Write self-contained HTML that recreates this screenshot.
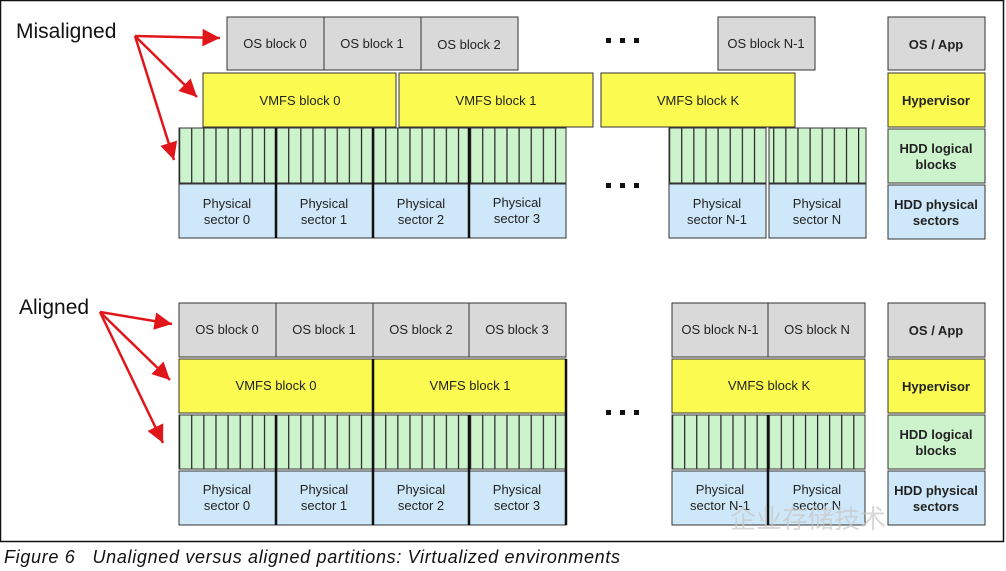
<!DOCTYPE html>
<html><head><meta charset="utf-8"><style>
html,body{margin:0;padding:0;background:#fff;}
svg{display:block;font-family:"Liberation Sans",sans-serif;}
</style></head><body>
<svg width="1006" height="571" viewBox="0 0 1006 571" xmlns="http://www.w3.org/2000/svg">
<defs>
<pattern id="pA" x="179" y="0" width="12.125" height="10" patternUnits="userSpaceOnUse"><rect width="12.125" height="10" fill="#cdf3cd"/><rect width="1.2" height="10" fill="#222"/></pattern>
<pattern id="pB" x="669" y="0" width="12.125" height="10" patternUnits="userSpaceOnUse"><rect width="12.125" height="10" fill="#cdf3cd"/><rect width="1.2" height="10" fill="#222"/></pattern>
<pattern id="pC" x="672" y="0" width="12.08" height="10" patternUnits="userSpaceOnUse"><rect width="12.08" height="10" fill="#cdf3cd"/><rect width="1.2" height="10" fill="#222"/></pattern>
<marker id="ar" viewBox="0 0 10 10" refX="10" refY="5" markerWidth="9" markerHeight="7" orient="auto" markerUnits="strokeWidth"><path d="M0,0 L10,5 L0,10 z" fill="#e0161a"/></marker>
</defs>
<rect x="0.5" y="0.5" width="1003" height="541" fill="#fff" stroke="#111" stroke-width="1.5"/>
<g stroke="#333" stroke-width="1">
<rect x="227" y="17" width="97" height="53" fill="#d9d9d9"/>
<rect x="324" y="17" width="97" height="53" fill="#d9d9d9"/>
<rect x="421" y="17" width="97" height="53" fill="#d9d9d9"/>
<rect x="718" y="17" width="97" height="53" fill="#d9d9d9"/>
<rect x="203" y="73" width="193" height="54" fill="#fafa50"/>
<rect x="399" y="73" width="194" height="54" fill="#fafa50"/>
<rect x="601" y="73" width="194" height="54" fill="#fafa50"/>
<rect x="179" y="128" width="387" height="55" fill="url(#pA)"/>
<rect x="669" y="128" width="97" height="55" fill="url(#pB)"/>
<rect x="769" y="128" width="97" height="55" fill="url(#pA)"/>
<rect x="179" y="184" width="97" height="54" fill="#cfe8f9"/>
<rect x="276" y="184" width="97" height="54" fill="#cfe8f9"/>
<rect x="373" y="184" width="96" height="54" fill="#cfe8f9"/>
<rect x="469" y="184" width="97" height="54" fill="#cfe8f9"/>
<rect x="669" y="184" width="97" height="54" fill="#cfe8f9"/>
<rect x="769" y="184" width="97" height="54" fill="#cfe8f9"/>
<rect x="888" y="17" width="97" height="53" fill="#d9d9d9"/>
<rect x="888" y="73" width="97" height="54" fill="#fafa50"/>
<rect x="888" y="129" width="97" height="54" fill="#cdf3cd"/>
<rect x="888" y="185" width="97" height="54" fill="#cfe8f9"/>
<rect x="179" y="303" width="97" height="54" fill="#d9d9d9"/>
<rect x="276" y="303" width="97" height="54" fill="#d9d9d9"/>
<rect x="373" y="303" width="96" height="54" fill="#d9d9d9"/>
<rect x="469" y="303" width="97" height="54" fill="#d9d9d9"/>
<rect x="672" y="303" width="96" height="54" fill="#d9d9d9"/>
<rect x="768" y="303" width="97" height="54" fill="#d9d9d9"/>
<rect x="179" y="359" width="194" height="54" fill="#fafa50"/>
<rect x="373" y="359" width="193" height="54" fill="#fafa50"/>
<rect x="672" y="359" width="193" height="54" fill="#fafa50"/>
<rect x="179" y="415" width="387" height="54" fill="url(#pA)"/>
<rect x="672" y="415" width="193" height="54" fill="url(#pC)"/>
<rect x="179" y="471" width="97" height="54" fill="#cfe8f9"/>
<rect x="276" y="471" width="97" height="54" fill="#cfe8f9"/>
<rect x="373" y="471" width="96" height="54" fill="#cfe8f9"/>
<rect x="469" y="471" width="97" height="54" fill="#cfe8f9"/>
<rect x="672" y="471" width="96" height="54" fill="#cfe8f9"/>
<rect x="768" y="471" width="97" height="54" fill="#cfe8f9"/>
<rect x="888" y="303" width="97" height="54" fill="#d9d9d9"/>
<rect x="888" y="359" width="97" height="54" fill="#fafa50"/>
<rect x="888" y="415" width="97" height="54" fill="#cdf3cd"/>
<rect x="888" y="471" width="97" height="54" fill="#cfe8f9"/>
</g>
<g stroke="#111" stroke-width="2.5">
<line x1="276" y1="128" x2="276" y2="238"/><line x1="373" y1="128" x2="373" y2="238"/><line x1="469" y1="128" x2="469" y2="238"/>
<line x1="276" y1="415" x2="276" y2="525"/><line x1="373" y1="359" x2="373" y2="525"/><line x1="469" y1="415" x2="469" y2="525"/>
<line x1="768" y1="415" x2="768" y2="525"/><line x1="566" y1="359" x2="566" y2="525"/>
</g>
<g fill="#111">
<rect x="606" y="38" width="5" height="5"/><rect x="620" y="38" width="5" height="5"/><rect x="634" y="38" width="5" height="5"/>
<rect x="606" y="183" width="5" height="5"/><rect x="620" y="183" width="5" height="5"/><rect x="634" y="183" width="5" height="5"/>
<rect x="606" y="410" width="5" height="5"/><rect x="620" y="410" width="5" height="5"/><rect x="634" y="410" width="5" height="5"/>
</g>
<g stroke="#e0161a" stroke-width="2.5" fill="none" marker-end="url(#ar)">
<line x1="135" y1="36" x2="220" y2="38"/>
<line x1="135" y1="36" x2="197" y2="97"/>
<line x1="135" y1="36" x2="174" y2="160"/>
<line x1="100" y1="312" x2="172" y2="324"/>
<line x1="100" y1="312" x2="170" y2="380"/>
<line x1="100" y1="312" x2="163" y2="443"/>
</g>
<g font-size="13" fill="#222" text-anchor="middle">
<text x="275" y="48">OS block 0</text><text x="372" y="48">OS block 1</text><text x="469" y="49">OS block 2</text><text x="766" y="48">OS block N-1</text>
<text x="300" y="105">VMFS block 0</text><text x="496" y="105">VMFS block 1</text><text x="698" y="105">VMFS block K</text>
<text x="227" y="208">Physical</text><text x="227" y="224">sector 0</text>
<text x="324" y="208">Physical</text><text x="324" y="224">sector 1</text>
<text x="421" y="208">Physical</text><text x="421" y="224">sector 2</text>
<text x="517" y="207">Physical</text><text x="517" y="223">sector 3</text>
<text x="717" y="208">Physical</text><text x="717" y="224">sector N-1</text>
<text x="817" y="208">Physical</text><text x="817" y="224">sector N</text>
<text x="227" y="334">OS block 0</text><text x="324" y="334">OS block 1</text><text x="421" y="334">OS block 2</text><text x="517" y="334">OS block 3</text>
<text x="720" y="334">OS block N-1</text><text x="817" y="334">OS block N</text>
<text x="276" y="390">VMFS block 0</text><text x="470" y="390">VMFS block 1</text><text x="769" y="390">VMFS block K</text>
<text x="227" y="494">Physical</text><text x="227" y="510">sector 0</text>
<text x="324" y="494">Physical</text><text x="324" y="510">sector 1</text>
<text x="421" y="494">Physical</text><text x="421" y="510">sector 2</text>
<text x="517" y="494">Physical</text><text x="517" y="510">sector 3</text>
<text x="720" y="494">Physical</text><text x="720" y="510">sector N-1</text>
<text x="817" y="494">Physical</text><text x="817" y="510">sector N</text>
</g>
<g font-size="13" font-weight="bold" fill="#222" text-anchor="middle">
<text x="936" y="49">OS / App</text><text x="936" y="105">Hypervisor</text>
<text x="936" y="153">HDD logical</text><text x="936" y="169">blocks</text>
<text x="936" y="209">HDD physical</text><text x="936" y="225">sectors</text>
<text x="936" y="335">OS / App</text><text x="936" y="391">Hypervisor</text>
<text x="936" y="439">HDD logical</text><text x="936" y="455">blocks</text>
<text x="936" y="495">HDD physical</text><text x="936" y="511">sectors</text>
</g>
<text x="16" y="38" font-size="21" fill="#111">Misaligned</text>
<text x="19" y="314" font-size="21" fill="#111">Aligned</text>
<text x="730" y="528" font-size="26" fill="#c8c8c8" font-family="'Noto Sans CJK SC',sans-serif" opacity="0.7">企业存储技术</text>
<text x="4" y="563" font-size="18" font-style="italic" fill="#111" textLength="616" lengthAdjust="spacing">Figure 6&#160;&#160;&#160;Unaligned versus aligned partitions: Virtualized environments</text>
</svg>
</body></html>
